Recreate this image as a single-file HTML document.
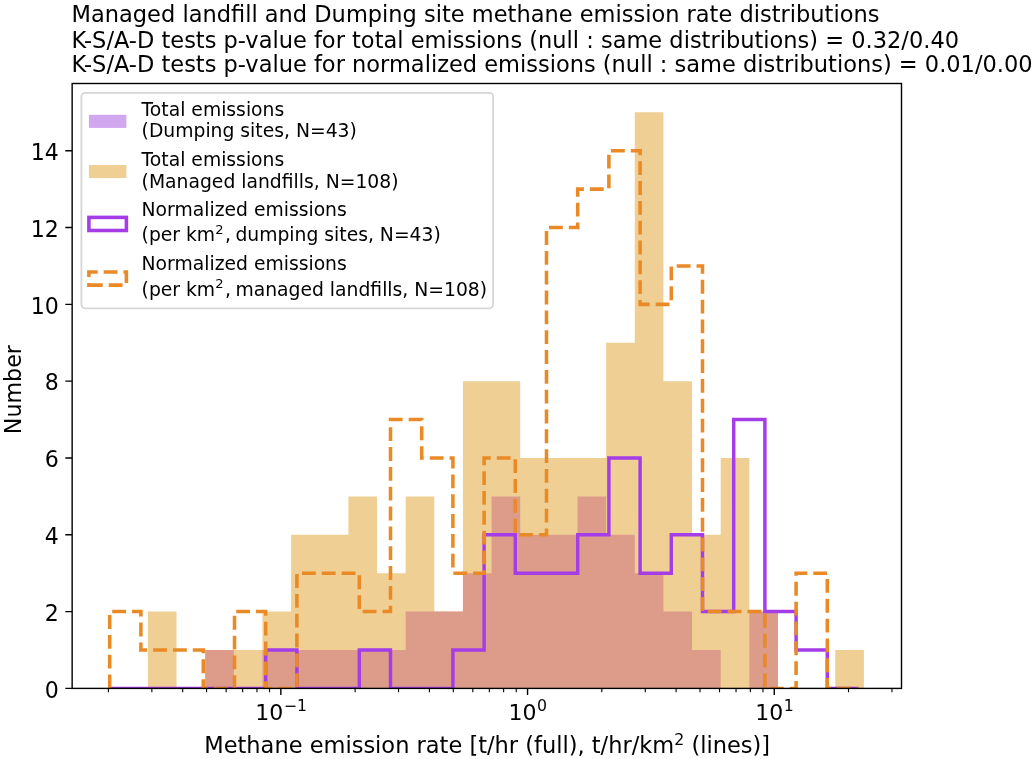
<!DOCTYPE html>
<html lang="en"><head><meta charset="utf-8"><title>Managed landfill and Dumping site methane emission rate distributions</title>
<style>html,body{margin:0;padding:0;background:#fff;}body{width:1035px;height:759px;overflow:hidden;}svg{display:block;}text{font-family:"DejaVu Sans", "Liberation Sans", sans-serif;fill:#000;}</style></head><body>
<svg width="1035" height="759" viewBox="0 0 1035 759">
<rect width="1035" height="759" fill="#fff"/>
<defs><clipPath id="ax"><rect x="72.15" y="83.5" width="829.35" height="604.9"/></clipPath></defs>
<g clip-path="url(#ax)">
<path d="M147.9,688.4 L147.9,611.59 L176.54,611.59 L176.54,688.4 L205.18,688.4 L205.18,650 L233.82,650 L233.82,650 L262.46,650 L262.46,611.59 L291.1,611.59 L291.1,534.78 L319.74,534.78 L319.74,534.78 L348.38,534.78 L348.38,496.38 L377.02,496.38 L377.02,573.18 L405.66,573.18 L405.66,496.38 L434.3,496.38 L434.3,611.59 L462.94,611.59 L462.94,381.16 L491.58,381.16 L491.58,381.16 L520.22,381.16 L520.22,457.97 L548.86,457.97 L548.86,457.97 L577.5,457.97 L577.5,457.97 L606.14,457.97 L606.14,342.75 L634.78,342.75 L634.78,112.32 L663.42,112.32 L663.42,381.16 L692.06,381.16 L692.06,534.78 L720.7,534.78 L720.7,457.97 L749.34,457.97 L749.34,611.59 L777.98,611.59 L777.98,688.4 L806.62,688.4 L806.62,688.4 L835.26,688.4 L835.26,650 L863.9,650 L863.9,688.4Z" fill="#f0cf94"/>
<path d="M147.9,688.4 L147.9,688.4 L176.54,688.4 L176.54,688.4 L205.18,688.4 L205.18,650 L233.82,650 L233.82,688.4 L262.46,688.4 L262.46,650 L291.1,650 L291.1,650 L319.74,650 L319.74,650 L348.38,650 L348.38,650 L377.02,650 L377.02,650 L405.66,650 L405.66,611.59 L434.3,611.59 L434.3,611.59 L462.94,611.59 L462.94,573.18 L491.58,573.18 L491.58,496.38 L520.22,496.38 L520.22,534.78 L548.86,534.78 L548.86,534.78 L577.5,534.78 L577.5,496.38 L606.14,496.38 L606.14,534.78 L634.78,534.78 L634.78,573.18 L663.42,573.18 L663.42,611.59 L692.06,611.59 L692.06,650 L720.7,650 L720.7,688.4 L749.34,688.4 L749.34,611.59 L777.98,611.59 L777.98,688.4 L806.62,688.4 L806.62,688.4 L835.26,688.4 L835.26,688.4 L863.9,688.4 L863.9,688.4Z" fill="#dd9b8a"/>
<path d="M109.7,688.4 L140.9,688.4 L172.1,688.4 L203.3,688.4 L234.5,688.4 L265.7,688.4 L265.7,650 L296.9,650 L296.9,688.4 L328.1,688.4 L359.3,688.4 L359.3,650 L390.5,650 L390.5,688.4 L421.7,688.4 L452.9,688.4 L452.9,650 L484.1,650 L484.1,534.78 L515.3,534.78 L515.3,573.18 L546.5,573.18 L577.7,573.18 L577.7,534.78 L608.9,534.78 L608.9,457.97 L640.1,457.97 L640.1,573.18 L671.3,573.18 L671.3,534.78 L702.5,534.78 L702.5,611.59 L733.7,611.59 L733.7,419.56 L764.9,419.56 L764.9,611.59 L796.1,611.59 L796.1,650 L827.3,650 L827.3,688.4 L858.5,688.4" fill="none" stroke="#a43ce8" stroke-width="3.45" stroke-linejoin="miter"/>
<path d="M109.7,688.4 L109.7,611.59 L140.9,611.59 L140.9,650 L172.1,650 L203.3,650 L203.3,688.4 L234.5,688.4 L234.5,611.59 L265.7,611.59 L265.7,688.4 L296.9,688.4 L296.9,573.18 L328.1,573.18 L359.3,573.18 L359.3,611.59 L390.5,611.59 L390.5,419.56 L421.7,419.56 L421.7,457.97 L452.9,457.97 L452.9,573.18 L484.1,573.18 L484.1,457.97 L515.3,457.97 L515.3,534.78 L546.5,534.78 L546.5,227.54 L577.7,227.54 L577.7,189.13 L608.9,189.13 L608.9,150.73 L640.1,150.73 L640.1,304.35 L671.3,304.35 L671.3,265.94 L702.5,265.94 L702.5,611.59 L733.7,611.59 L764.9,611.59 L764.9,688.4 L796.1,688.4 L796.1,573.18 L827.3,573.18 L827.3,688.4 L858.5,688.4" fill="none" stroke="#e98a27" stroke-width="3.55" stroke-linejoin="miter" stroke-dasharray="13.845 5.985"/>
</g>
<path d="M280.85,688.4 v6.7 M527.55,688.4 v6.7 M774.25,688.4 v6.7" stroke="#000" stroke-width="1.4" fill="none"/>
<path d="M108.41,688.4 v3.8 M151.86,688.4 v3.8 M182.68,688.4 v3.8 M206.59,688.4 v3.8 M226.12,688.4 v3.8 M242.64,688.4 v3.8 M256.94,688.4 v3.8 M269.56,688.4 v3.8 M355.11,688.4 v3.8 M398.56,688.4 v3.8 M429.38,688.4 v3.8 M453.29,688.4 v3.8 M472.82,688.4 v3.8 M489.34,688.4 v3.8 M503.64,688.4 v3.8 M516.26,688.4 v3.8 M601.81,688.4 v3.8 M645.26,688.4 v3.8 M676.08,688.4 v3.8 M699.99,688.4 v3.8 M719.52,688.4 v3.8 M736.04,688.4 v3.8 M750.34,688.4 v3.8 M762.96,688.4 v3.8 M848.51,688.4 v3.8 M891.96,688.4 v3.8" stroke="#000" stroke-width="1.1" fill="none"/>
<path d="M72.15,688.4 h-6.8 M72.15,611.59 h-6.8 M72.15,534.78 h-6.8 M72.15,457.97 h-6.8 M72.15,381.16 h-6.8 M72.15,304.35 h-6.8 M72.15,227.54 h-6.8 M72.15,150.73 h-6.8" stroke="#000" stroke-width="1.4" fill="none"/>
<rect x="72.15" y="83.5" width="829.35" height="604.9" fill="none" stroke="#000" stroke-width="1.4"/>
<text x="58.8" y="697.6" font-size="22.1" text-anchor="end">0</text>
<text x="58.8" y="620.79" font-size="22.1" text-anchor="end">2</text>
<text x="58.8" y="543.98" font-size="22.1" text-anchor="end">4</text>
<text x="58.8" y="467.17" font-size="22.1" text-anchor="end">6</text>
<text x="58.8" y="390.36" font-size="22.1" text-anchor="end">8</text>
<text x="58.8" y="313.55" font-size="22.1" text-anchor="end">10</text>
<text x="58.8" y="236.74" font-size="22.1" text-anchor="end">12</text>
<text x="58.8" y="159.93" font-size="22.1" text-anchor="end">14</text>
<text x="255.29" y="719.5" font-size="22">10<tspan font-size="15.75" dx="0.5" dy="-8.3">−1</tspan></text>
<text x="508.59" y="719.5" font-size="22">10<tspan font-size="15.75" dx="0.5" dy="-8.3">0</tspan></text>
<text x="755.29" y="719.5" font-size="22">10<tspan font-size="15.75" dx="0.5" dy="-8.3">1</tspan></text>
<text x="487.2" y="752.8" font-size="22.5" text-anchor="middle">Methane emission rate [t/hr (full), t/hr/km<tspan font-size="15.75" dy="-8.3">2</tspan><tspan dy="8.3"> (lines)]</tspan></text>
<text transform="translate(20.5,389.6) rotate(-90)" font-size="22.2" text-anchor="middle">Number</text>
<text x="71.6" y="22.4" font-size="22.5">Managed landfill and Dumping site methane emission rate distributions</text>
<text x="71.6" y="47.5" font-size="22.5">K-S/A-D tests p-value for total emissions (null : same distributions) = 0.32/0.40</text>
<text x="71.6" y="72.1" font-size="22.5">K-S/A-D tests p-value for normalized emissions (null : same distributions) = 0.01/0.00</text>
<rect x="81.4" y="92.9" width="411.7" height="215.4" rx="3.7" ry="3.7" fill="#fff" fill-opacity="0.8" stroke="#cccccc" stroke-opacity="0.8" stroke-width="1.83"/>
<rect x="88.9" y="114.8" width="37.5" height="13.1" fill="#d1a7f0"/>
<rect x="88.9" y="165" width="37.5" height="13.1" fill="#f0cf94"/>
<rect x="88.9" y="217.4" width="37.5" height="13.1" fill="none" stroke="#a43ce8" stroke-width="3.55"/>
<path d="M88.9,285.1 h37.5 v-13.1 h-37.5 Z" fill="none" stroke="#e98a27" stroke-width="3.55" stroke-dasharray="13.845 5.985"/>
<text x="141.6" y="115.7" font-size="18.75">Total emissions</text>
<text x="141.6" y="137" font-size="18.75">(Dumping sites, N=43)</text>
<text x="141.6" y="165.5" font-size="18.75">Total emissions</text>
<text x="141.6" y="187.6" font-size="18.75">(Managed landfills, N=108)</text>
<text x="141.6" y="215.5" font-size="18.75">Normalized emissions</text>
<text x="141.6" y="241" font-size="18.75">(per km<tspan font-size="13.125" dy="-7.5">2</tspan><tspan dy="7.5" dx="1.4">,</tspan><tspan dx="-1.4"> dumping sites, N=43)</tspan></text>
<text x="141.6" y="269.8" font-size="18.75">Normalized emissions</text>
<text x="141.6" y="295.5" font-size="18.75">(per km<tspan font-size="13.125" dy="-7.5">2</tspan><tspan dy="7.5" dx="1.4">,</tspan><tspan dx="-1.4"> managed landfills, N=108)</tspan></text>
</svg></body></html>
